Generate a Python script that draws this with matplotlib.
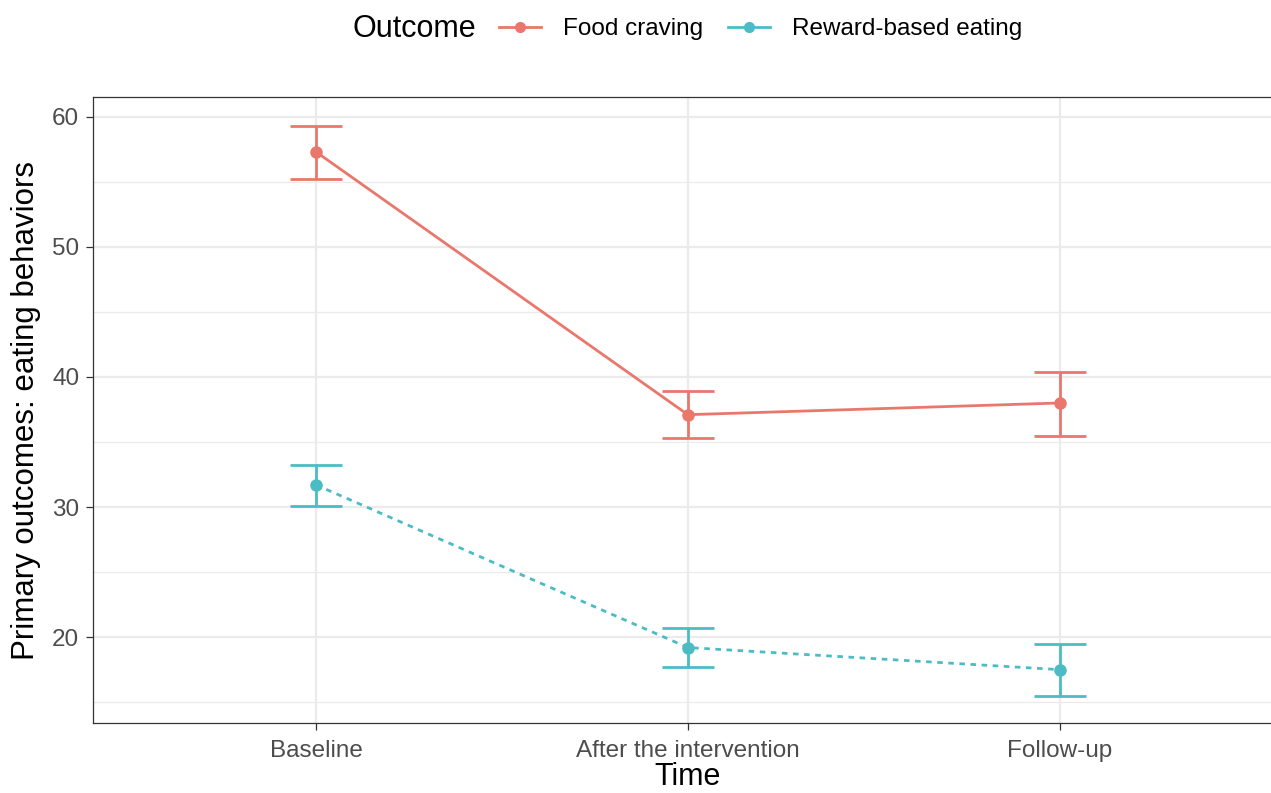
import numpy as np
import matplotlib
matplotlib.use('Agg')
import matplotlib.pyplot as plt
from matplotlib.lines import Line2D
from matplotlib.offsetbox import HPacker

# Values
times = ['Baseline', 'After the intervention', 'Follow-up']
craving_mean = [57.3, 37.1, 38.0]
craving_low = [55.2, 35.3, 35.5]
craving_high = [59.3, 38.9, 40.4]
reward_mean = [31.7, 19.2, 17.5]
reward_low = [30.1, 17.7, 15.5]
reward_high = [33.2, 20.7, 19.5]

red = '#EA776C'
teal = '#4BBCC4'

plt.rcParams['font.family'] = ['Liberation Sans', 'DejaVu Sans']

fig = plt.figure(figsize=(12.71, 7.93), dpi=100)
ax = fig.add_axes([0.0732, 0.0883, 0.936, 0.789])

x = np.arange(len(times))

def draw(mean, low, high, color, ls):
    mean = np.array(mean)
    err = [mean - np.array(low), np.array(high) - mean]
    ax.errorbar(x, mean, yerr=err, fmt='none', ecolor=color, elinewidth=2,
                capsize=19, capthick=2, zorder=3)
    ax.plot(x, mean, color=color, lw=2, ls=ls, zorder=4)
    ax.plot(x, mean, 'o', color=color, ms=8, zorder=5)

draw(craving_mean, craving_low, craving_high, red, '-')
draw(reward_mean, reward_low, reward_high, teal, (0, (2.0, 2.0)))

ax.set_xlim(-0.6, 2.6)
ax.set_ylim(13.4, 61.5)
ax.set_xticks(x)
ax.set_xticklabels(times)
ax.set_yticks([20, 30, 40, 50, 60])
ax.set_yticks([15, 25, 35, 45, 55], minor=True)

ax.grid(True, which='major', color='#EBEBEB', lw=1.6, zorder=0)
ax.grid(True, which='minor', axis='y', color='#EBEBEB', lw=0.9, zorder=0)
ax.set_axisbelow(True)

for s in ax.spines.values():
    s.set_color('#333333')
    s.set_linewidth(0.9)

ax.tick_params(axis='both', which='major', length=5, width=0.9, color='#333333',
               labelsize=17.5, labelcolor='#4D4D4D')
ax.tick_params(axis='x', pad=7)
ax.tick_params(axis='y', pad=5)
ax.tick_params(axis='both', which='minor', length=0)

ax.set_xlabel('Time', fontsize=22, labelpad=0)
ax.set_ylabel('Primary outcomes: eating behaviors', fontsize=22.5, labelpad=8)

handles = [
    Line2D([0], [0], color=red, lw=2, marker='o', ms=7),
    Line2D([0], [0], color=teal, lw=2, marker='o', ms=7),
]
leg = fig.legend(handles, ['Food craving', 'Reward-based eating'], title='Outcome',
                 loc='center', bbox_to_anchor=(0.541, 0.963), ncol=2, frameon=False,
                 fontsize=17.5, title_fontsize=22, handlelength=1.75,
                 handletextpad=0.9, columnspacing=1.0)
# put the title to the left of the entries, like ggplot's top legend
title_box = leg._legend_title_box
handle_box = leg._legend_handle_box
leg._legend_box._children = [HPacker(children=[title_box, handle_box], align='center',
                                     pad=0, sep=16)]

fig.savefig('out.png', dpi=100)
